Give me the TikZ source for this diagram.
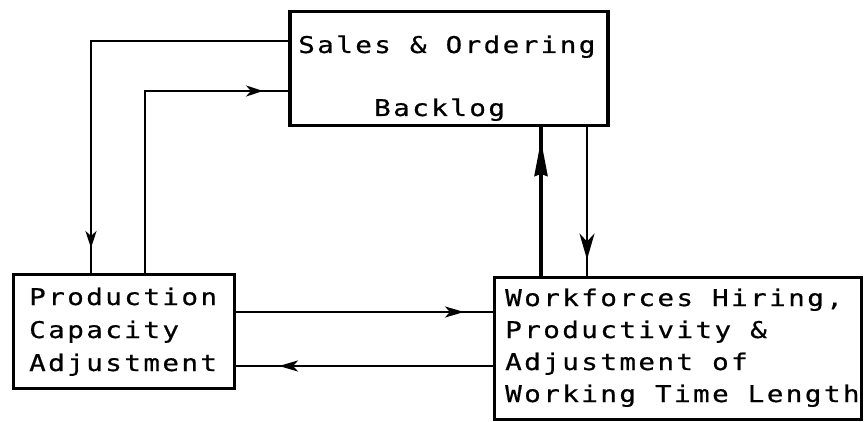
\documentclass[tikz,border=0pt]{standalone}
\usepackage{fontspec}
\usetikzlibrary{arrows.meta,decorations.markings}
\newfontfamily\plotfont[FakeStretch=1.2,LetterSpace=10.5,FakeBold=0.6]{DejaVu Sans Mono}
\tikzset{
  box/.style={draw, line width=3pt, anchor=north west, inner sep=0pt},
  lbl/.style={anchor=base west, inner sep=0pt, font=\plotfont\fontsize{23}{23}\selectfont},
  flow/.style={line width=2.5pt},
  midarrow/.style 2 args={postaction={decorate},
    decoration={markings, mark=at position #1 with {\arrow{#2}}}},
}
\begin{document}
\begin{tikzpicture}[x=1pt, y=-1pt]
  \useasboundingbox[fill=white] (0,0) rectangle (864,422);

  % boxes
  \node[box, line width=3.5pt, minimum width=318pt, minimum height=114pt] (sales) at (288,10) {};
  \node[box, minimum width=221pt, minimum height=114pt] (prod) at (12,273) {};
  \node[box, minimum width=367pt, minimum height=142pt] (work) at (493,276) {};

  % labels
  \node[lbl] (t1) at (298,53) {Sales \& Ordering};
  \node[lbl] (t2) at (374,116) {Backlog};
  \node[lbl] (p1) at (29,305) {Production};
  \node[lbl] (p2) at (29,338) {Capacity};
  \node[lbl] (p3) at (29,371) {Adjustment};
  \node[lbl] (w1) at (505,306) {Workforces Hiring,};
  \node[lbl] (w2) at (505,338) {Productivity \&};
  \node[lbl] (w3) at (505,370) {Adjustment of};
  \node[lbl] (w4) at (505,402) {Working Time Length};

  % bend points and rows/columns of the connectors
  \coordinate (bendA) at (91,41);
  \coordinate (bendB) at (145,91);
  \coordinate (rowA) at (0,312);
  \coordinate (rowB) at (0,366);
  \coordinate (colA) at (541,0);
  \coordinate (colB) at (587,0);

  % connectors
  \draw[flow, midarrow={404pt}{Stealth[length=17pt,width=11pt,inset=5pt]}]
    (sales.west |- bendA) -- (bendA) -- (bendA |- prod.north);
  \draw[flow, midarrow={300pt}{Stealth[length=17pt,width=11pt,inset=5pt]}]
    (bendB |- prod.north) -- (bendB) -- (sales.west |- bendB);
  \draw[flow, midarrow={228pt}{Stealth[length=19pt,width=11pt,inset=5pt]}]
    (prod.east |- rowA) -- (work.west |- rowA);
  \draw[flow, midarrow={214pt}{Stealth[length=19pt,width=11pt,inset=5pt]}]
    (work.west |- rowB) -- (prod.east |- rowB);
  \draw[flow, line width=3.5pt, midarrow={136pt}{Stealth[length=36pt,width=13pt,inset=2pt]}]
    (colA |- work.north) -- (colA |- sales.south);
  \draw[flow, midarrow={132pt}{Stealth[length=26pt,width=15pt,inset=8pt]}]
    (colB |- sales.south) -- (colB |- work.north);
\end{tikzpicture}
\end{document}
